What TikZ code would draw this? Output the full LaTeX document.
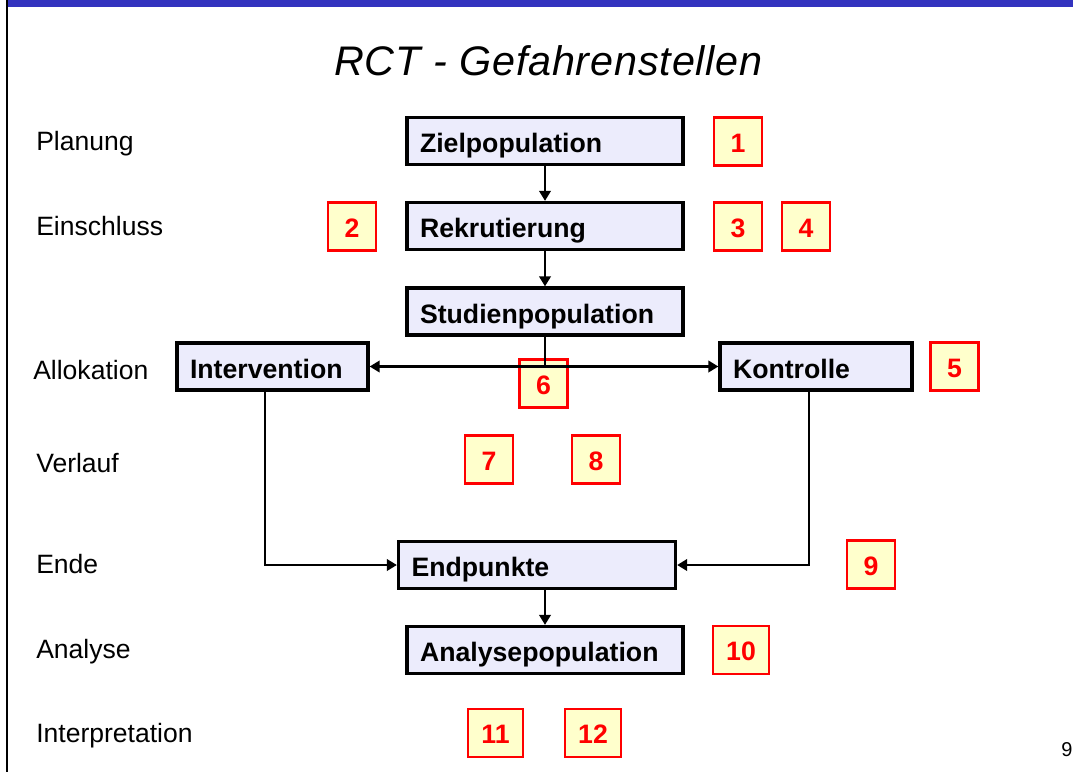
\documentclass[tikz,border=0pt]{standalone}
\usepackage{fontspec}
\setmainfont{Liberation Sans}
\newfontfamily\titlefont[LetterSpace=2]{Liberation Sans}
\usetikzlibrary{arrows.meta}
\definecolor{barblue}{RGB}{51,51,191}
\definecolor{boxfill}{RGB}{236,236,252}
\definecolor{numfill}{RGB}{255,255,204}
\definecolor{numred}{RGB}{255,0,0}
\tikzset{
	stage/.style={draw,line width=2.4pt,fill=boxfill,text width=#1,align=left,
		inner xsep=9.75pt,inner ysep=0pt,minimum height=35.25pt,
		text height=17.3pt,text depth=0pt,font=\bfseries\fontsize{20}{24}\selectfont},
	numbox/.style={draw=numred,line width=2.2pt,fill=numfill,text=numred,
		minimum width=#1,minimum height=36pt,inner sep=0pt,
		text height=15.8pt,text depth=0pt,font=\bfseries\fontsize{20}{24}\selectfont},
	flow/.style={line width=2pt,-{Triangle[length=7.5pt,width=8.5pt]}}
}
\begin{document}
\begin{tikzpicture}[x=0.75pt,y=-0.75pt]
			\newcommand{\myfontphase}[1]{
				\fontsize{19.9}{24}\selectfont{#1}
			}\newcommand{\myfonttitle}[1]{
				\titlefont\itshape\fontsize{31}{36}\selectfont{#1}
			}%Frame of the slide
			\useasboundingbox (0,0) rectangle (1073,772);
			\fill [barblue] (7,0) rectangle (1073,7);
			\draw [line width=1.4pt] (7,0) -- (7,772);
			%Title
			\coordinate (title) at (548.5,75);
			\node [anchor=base] (titletext) at (title) {\myfonttitle{RCT - Gefahrenstellen}};
			%Phases on the left side
			\foreach \x/\y/\phase in {36/150/Planung,36/235/Einschluss,33/379/Allokation,
				36/472/Verlauf,36/573/Ende,36/658/Analyse,36/742/Interpretation} {
				\node [anchor=base west,inner sep=0pt] (phase\phase) at (\x,\y) {\myfontphase{\phase}};
			}
			%Boxes of the flow
			\coordinate (center0) at (545,141);
			\coordinate (center1) at (545,226);
			\coordinate (center2) at (545,311.5);
			\coordinate (center3l) at (272.5,366.5);
			\coordinate (center3r) at (816,366.5);
			\coordinate (center4) at (537,565);
			\coordinate (center5) at (545,650);
			\node [stage=187.5pt] (zielpop) at (center0) {Zielpopulation};
			\node [stage=187.5pt] (rekrut) at (center1) {Rekrutierung};
			\node [stage=187.5pt] (studienpop) at (center2) {Studienpopulation};
			\node [stage=123.75pt] (intervention) at (center3l) {Intervention};
			\node [stage=124.5pt] (kontrolle) at (center3r) {Kontrolle};
			\node [stage=188.25pt] (endpunkte) at (center4) {Endpunkte};
			\node [stage=187.5pt] (analysepop) at (center5) {Analysepopulation};
			%Numbered danger spots
			\foreach \n/\x/\y/\w in {1/738/141.5/36pt,2/352/226.5/36pt,3/738/226.5/36pt,
				4/806/226.5/36pt,5/954.5/366.5/36pt,6/543.5/383.5/36pt,7/489/459.5/36pt,
				8/596/459.5/36pt,9/871/564.5/36pt,10/741/650/42pt,11/495.5/733/41.25pt,
				12/593/733/42pt} {
				\node [numbox=\w] (num\n) at (\x,\y) {\n};
			}
			%Connectors
			\coordinate (ivline) at (265,0);
			\coordinate (kline) at (809,0);
			\draw [flow] (zielpop.south) -- (rekrut.north);
			\draw [flow] (rekrut.south) -- (studienpop.north);
			\draw [flow] (studienpop.south) |- (intervention.east);
			\draw [flow] (studienpop.south) |- (kontrolle.west);
			\draw [flow] (intervention.south -| ivline) |- (endpunkte.west);
			\draw [flow] (kontrolle.south -| kline) |- (endpunkte.east);
			\draw [flow] (endpunkte.south -| analysepop.north) -- (analysepop.north);
			%Page number
			\node [anchor=base west,inner sep=0pt] (pagenum) at (1061,756) {\fontsize{15}{18}\selectfont 9};
\end{tikzpicture}
\end{document}
